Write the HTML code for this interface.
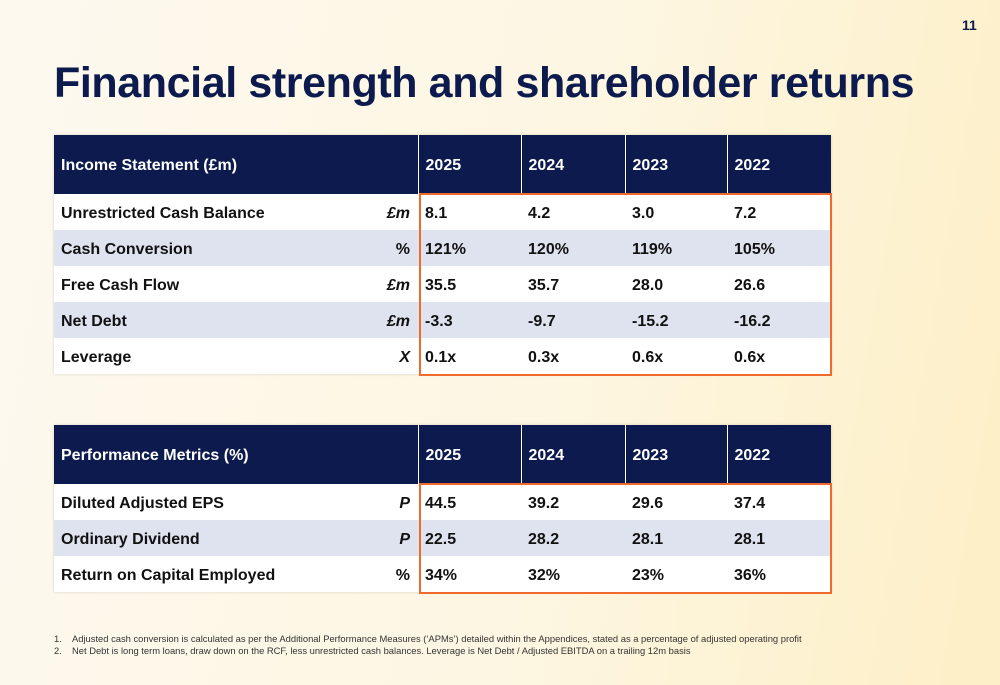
<!DOCTYPE html>
<html><head><meta charset="utf-8">
<style>
*{margin:0;padding:0;box-sizing:border-box}
body{width:1000px;height:685px;overflow:hidden;position:relative;font-family:"Liberation Sans",sans-serif;background:linear-gradient(100deg,#fdf9ef 0%,#fdf6e2 55%,#fdefc6 100%);color:#111}
.title{position:absolute;left:54px;top:59px;font-size:43px;font-weight:bold;color:#0c1a4e;letter-spacing:-0.4px}
.pg{position:absolute;left:962px;top:17px;font-size:14px;font-weight:bold;color:#0c1a4e}
table{position:absolute;left:54px;border-collapse:collapse;table-layout:fixed;width:777px;box-shadow:0 0 3px rgba(0,0,0,0.15)}
td{font-size:16px;font-weight:bold;height:36px;padding:3px 7px 0;color:#111}
tr.h td{background:#0c1a4e;color:#fff;height:59px;border-left:1px solid #fff}
tr.h td:first-child{border-left:none}
tr.w td{background:#fff}
tr.g td{background:#dfe3ef}
td.u{text-align:right;font-style:italic;padding-right:8px}
td.pct{font-style:normal}
.box{position:absolute;border:2px solid #ef6a2c;left:419px;width:413px}
.fn{position:absolute;left:54px;top:633px;font-size:9.4px;color:#333;line-height:12px}
.fn span{display:inline-block;width:18px}
</style></head><body>
<div class="pg">11</div>
<div class="title">Financial strength and shareholder returns</div>

<table style="top:135px">
<colgroup><col style="width:306px"><col style="width:58px"><col style="width:103px"><col style="width:104px"><col style="width:102px"><col style="width:104px"></colgroup>
<tr class="h"><td colspan="2">Income Statement (£m)</td><td>2025</td><td>2024</td><td>2023</td><td>2022</td></tr>
<tr class="w"><td>Unrestricted Cash Balance</td><td class="u">£m</td><td>8.1</td><td>4.2</td><td>3.0</td><td>7.2</td></tr>
<tr class="g"><td>Cash Conversion</td><td class="u pct">%</td><td>121%</td><td>120%</td><td>119%</td><td>105%</td></tr>
<tr class="w"><td>Free Cash Flow</td><td class="u">£m</td><td>35.5</td><td>35.7</td><td>28.0</td><td>26.6</td></tr>
<tr class="g"><td>Net Debt</td><td class="u">£m</td><td>-3.3</td><td>-9.7</td><td>-15.2</td><td>-16.2</td></tr>
<tr class="w"><td>Leverage</td><td class="u">X</td><td>0.1x</td><td>0.3x</td><td>0.6x</td><td>0.6x</td></tr>
</table>
<div class="box" style="top:193px;height:183px"></div>

<table style="top:425px">
<colgroup><col style="width:306px"><col style="width:58px"><col style="width:103px"><col style="width:104px"><col style="width:102px"><col style="width:104px"></colgroup>
<tr class="h"><td colspan="2">Performance Metrics (%)</td><td>2025</td><td>2024</td><td>2023</td><td>2022</td></tr>
<tr class="w"><td>Diluted Adjusted EPS</td><td class="u">P</td><td>44.5</td><td>39.2</td><td>29.6</td><td>37.4</td></tr>
<tr class="g"><td>Ordinary Dividend</td><td class="u">P</td><td>22.5</td><td>28.2</td><td>28.1</td><td>28.1</td></tr>
<tr class="w"><td>Return on Capital Employed</td><td class="u pct">%</td><td>34%</td><td>32%</td><td>23%</td><td>36%</td></tr>
</table>
<div class="box" style="top:483px;height:111px"></div>

<div class="fn">
<div><span>1.</span>Adjusted cash conversion is calculated as per the Additional Performance Measures (‘APMs’) detailed within the Appendices, stated as a percentage of adjusted operating profit</div>
<div><span>2.</span>Net Debt is long term loans, draw down on the RCF, less unrestricted cash balances. Leverage is Net Debt / Adjusted EBITDA on a trailing 12m basis</div>
</div>
</body></html>
